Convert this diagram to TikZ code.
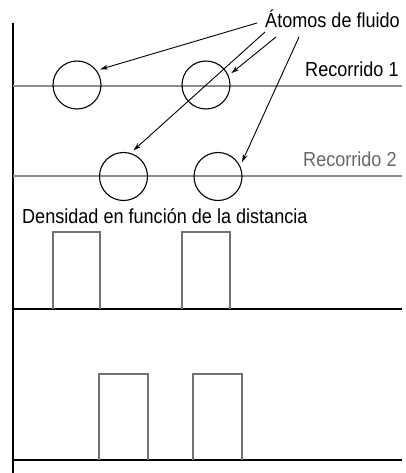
\documentclass[tikz,border=0pt]{standalone}
\usepackage{fontspec}
\setmainfont{Liberation Sans}[FakeStretch=0.89]
\usetikzlibrary{arrows.meta}

\begin{document}
\begin{tikzpicture}[x=1pt,y=-1pt,>={Stealth[length=8pt,width=5pt]},
  atom/.style={circle,draw,line width=1.1pt,minimum size=48pt,inner sep=0pt,outer sep=4pt},
  weg/.style={line width=1.6pt,color=black!45},
  dichte/.style={draw=black!55,line width=1.1pt},
  txt/.style={inner sep=0pt,anchor=base west,font=\fontsize{20.3}{22}\selectfont}]

\useasboundingbox (0,0) rectangle (406,473);

% Achse
\draw[line width=2.3pt] (13,23)--(13,473);

% Recorrido 1 und 2
\draw[weg] (13,86)--(402,86);
\draw[weg] (13,176)--(402,176);
\node[txt] (rec1) at (305,76.5) {Recorrido 1};
\node[txt,text=black!60] (rec2) at (303,167) {Recorrido 2};

% Atome
\node[atom] (c1) at (77,85) {};
\node[atom] (c2) at (206,85) {};
\node[atom] (c3) at (123.5,176.5) {};
\node[atom] (c4) at (218,176.5) {};

% Beschriftung mit Pfeilen
\node[txt] (atomos) at (265,28) {Átomos de fluido};
\coordinate (a1) at ([shift={(-8,-5)}]atomos.base west);
\coordinate (a2) at ([shift={(0,4)}]atomos.base west);
\coordinate (a3) at ([shift={(11,9)}]atomos.base west);
\coordinate (a4) at ([shift={(34,9)}]atomos.base west);
\draw[->,line width=0.9pt] (a1)--(c1.34);
\draw[->,line width=0.9pt] (a2)--(c3.69);
\draw[->,line width=0.9pt] (a3)--(c2.25);
\draw[->,line width=0.9pt] (a4)--(c4.31);

% Dichte
\node[txt] (dichte) at (22,223) {Densidad en función de la distancia};
\draw[line width=1.5pt] (13,309)--(402,309);
\foreach \xa/\xb in {53/100,182/230}
  \draw[dichte] (\xa,309) |- (\xb,232) -- (\xb,309);

\draw[line width=1.5pt] (13,460)--(402,460);
\foreach \xa/\xb in {99/148,193/242}
  \draw[dichte] (\xa,460) |- (\xb,374) -- (\xb,460);

\end{tikzpicture}
\end{document}
